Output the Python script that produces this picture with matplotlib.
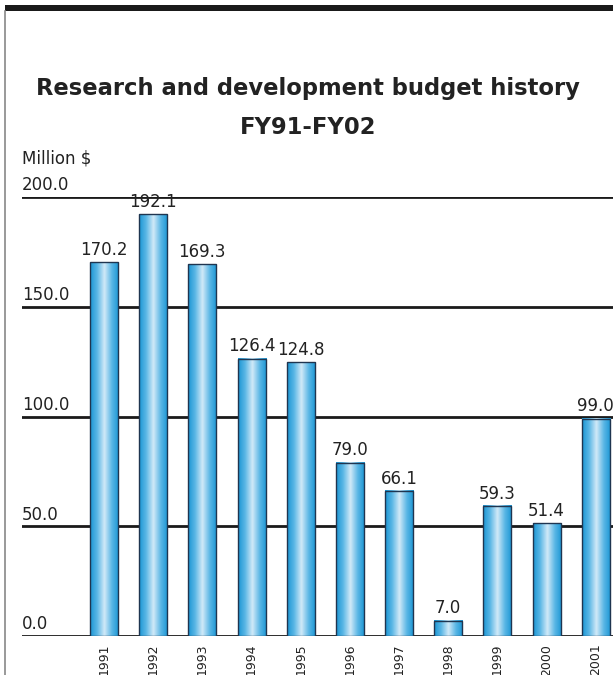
import numpy as np
import matplotlib
matplotlib.use("Agg")
import matplotlib.pyplot as plt
from matplotlib.colors import LinearSegmentedColormap
from matplotlib.patches import Rectangle
from matplotlib.lines import Line2D

years = ['1991', '1992', '1993', '1994', '1995', '1996', '1997', '1998', '1999', '2000', '2001']
budget = [170.2, 192.1, 169.3, 126.4, 124.8, 79.0, 66.1, 7.0, 59.3, 51.4, 99.0]
yticks = [0.0, 50.0, 100.0, 150.0, 200.0]

fig = plt.figure(figsize=(6.13, 6.75), dpi=100)
W, H = 613, 675

# frame: thick top band and thin left border
fig.add_artist(Rectangle((5 / W, 1 - 11 / H), 1, 6 / H, transform=fig.transFigure,
                         color='#1a1a1a', lw=0))
fig.add_artist(Line2D([5.5 / W, 5.5 / W], [0, 1 - 11 / H], transform=fig.transFigure,
                      color='#888888', lw=1.2))

fig.text(308 / W, 1 - 88 / H, 'Research and development budget history',
         ha='center', va='center', fontsize=16.3, fontweight='bold', color='#222222')
fig.text(308 / W, 1 - 127 / H, 'FY91-FY02',
         ha='center', va='center', fontsize=16.3, fontweight='bold', color='#222222')
fig.text(22 / W, 1 - 158 / H, 'Million $', ha='left', va='center',
         fontsize=12, color='#222222')

ax = fig.add_axes([22 / W, 39 / H, 1 - 22 / W, 439 / H])
ax.axis('off')

for t in yticks:
    ax.axhline(t, color='#1a1a1a', lw=2, zorder=1)
    ax.text(-1.667, t + 1.2, '%.1f' % t, ha='left', va='bottom', fontsize=12,
            color='#222222')

cmap = LinearSegmentedColormap.from_list('bar', ['#1b96d4', '#5db8e6', '#d2eaf8', '#5db8e6', '#1b96d4'])
grad = np.linspace(0, 1, 64).reshape(1, -1)
bw = 0.57
x = np.arange(len(years))
for xi, v, yr in zip(x, budget, years):
    ax.imshow(grad, cmap=cmap, extent=(xi - bw / 2, xi + bw / 2, 0, v),
              aspect='auto', zorder=2, interpolation='bilinear')
    ax.add_patch(Rectangle((xi - bw / 2, 0), bw, v, fill=False,
                           ec='#1f3550', lw=1.0, zorder=3))
    ax.text(xi, v + 1.5, '%.1f' % v, ha='center', va='bottom', fontsize=12,
            color='#222222')
    ax.text(xi, -3.5, yr, ha='center', va='top', rotation=90, fontsize=9,
            color='#222222', clip_on=False)

ax.set_ylim(0, 200)
ax.set_xlim(-1.667, 10.35)

fig.savefig('out.png', dpi=100)
